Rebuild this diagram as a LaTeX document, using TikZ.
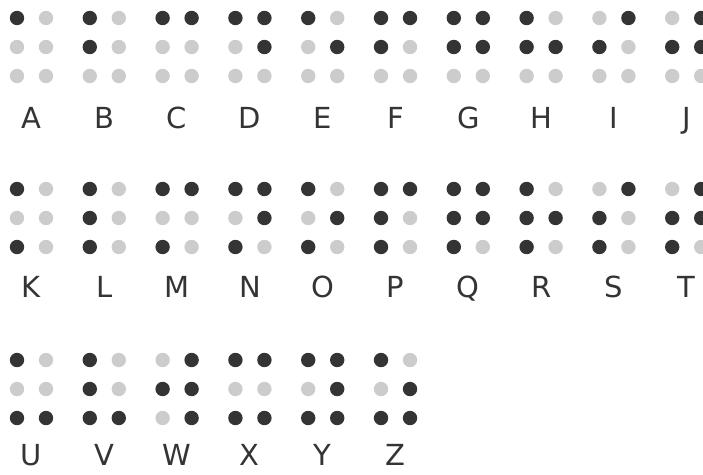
\documentclass[tikz,border=0pt]{standalone}
\usepackage{fontspec}
\setmainfont{DejaVu Sans}
\definecolor{dotdark}{RGB}{52, 52, 52}
\definecolor{dotlight}{RGB}{204, 204, 204}

\begin{document}
\begin{tikzpicture}[x=1pt, y=-1pt,
    dotoff/.style={fill=dotlight},
    doton/.style={fill=dotdark},
    letterlbl/.style={font=\fontsize{29}{29}\selectfont, text=dotdark, inner sep=0pt, anchor=base}]
    \useasboundingbox (0,0) rectangle (703,474);
    % Braille cells: dots 1-3 left column, 4-6 right column
    \foreach \ltr/\pat [count=\n from 0] in {
        A/{1,0,0,0,0,0}, B/{1,1,0,0,0,0}, C/{1,0,0,1,0,0}, D/{1,0,0,1,1,0}, E/{1,0,0,0,1,0},
        F/{1,1,0,1,0,0}, G/{1,1,0,1,1,0}, H/{1,1,0,0,1,0}, I/{0,1,0,1,0,0}, J/{0,1,0,1,1,0},
        K/{1,0,1,0,0,0}, L/{1,1,1,0,0,0}, M/{1,0,1,1,0,0}, N/{1,0,1,1,1,0}, O/{1,0,1,0,1,0},
        P/{1,1,1,1,0,0}, Q/{1,1,1,1,1,0}, R/{1,1,1,0,1,0}, S/{0,1,1,1,0,0}, T/{0,1,1,1,1,0},
        U/{1,0,1,0,0,1}, V/{1,1,1,0,0,1}, W/{0,1,0,1,1,1}, X/{1,0,1,1,0,1}, Y/{1,0,1,1,1,1},
        Z/{1,0,1,0,1,1}} {
        \pgfmathtruncatemacro{\col}{mod(\n,10)}
        \pgfmathtruncatemacro{\row}{div(\n,10)}
        \pgfmathsetmacro{\cx}{17+72.8*\col}
        \pgfmathsetmacro{\cy}{18+171*\row}
        \foreach \d [count=\k from 0] in \pat {
            \pgfmathtruncatemacro{\dc}{div(\k,3)}
            \pgfmathtruncatemacro{\dr}{mod(\k,3)}
            \ifnum\d=1
                \fill[doton] (\cx+29*\dc, \cy+29*\dr) circle (7.2);
            \else
                \fill[dotoff] (\cx+29*\dc, \cy+29*\dr) circle (7.2);
            \fi
        }
        \node[letterlbl] (lbl-\ltr) at (\cx+14.5, \cy+110.5-2.5*\row) {\ltr};
    }
\end{tikzpicture}
\end{document}
